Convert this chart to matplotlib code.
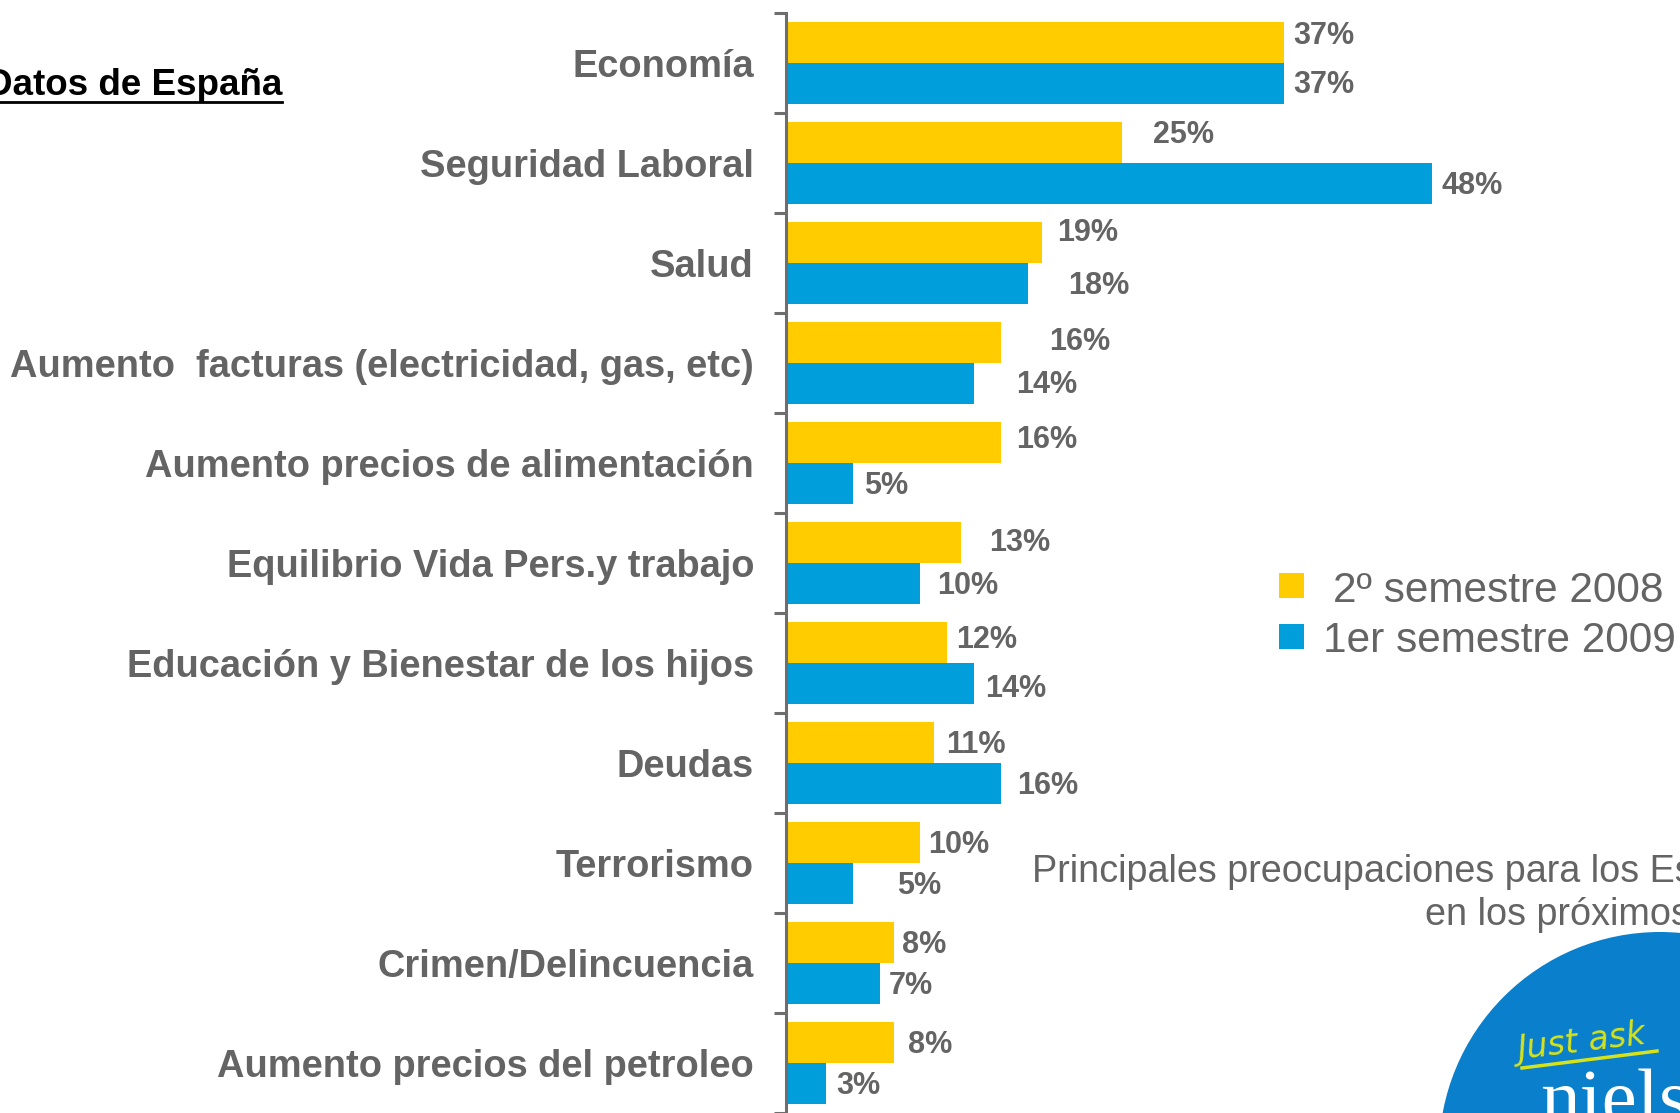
import matplotlib
matplotlib.use("Agg")
import matplotlib.pyplot as plt
from matplotlib.patches import Circle, Rectangle
from matplotlib.lines import Line2D
import numpy as np

plt.rcParams['font.family'] = ['Liberation Sans', 'DejaVu Sans']

# ---------------- data ----------------
categories = [
    "Economía",
    "Seguridad Laboral",
    "Salud",
    "Aumento  facturas (electricidad, gas, etc)",
    "Aumento precios de alimentación",
    "Equilibrio Vida Pers.y trabajo",
    "Educación y Bienestar de los hijos",
    "Deudas",
    "Terrorismo",
    "Crimen/Delincuencia",
    "Aumento precios del petroleo",
]
series_names = ["2º semestre 2008", "1er semestre 2009"]
values_2008 = [37, 25, 19, 16, 16, 13, 12, 11, 10, 8, 8]
values_2009 = [37, 48, 18, 14, 5, 10, 14, 16, 5, 7, 3]

title_text = "Datos de España"
subtitle_line1 = "Principales preocupaciones para los Españoles"
subtitle_line2 = "en los próximos 12 meses"

# ---------------- style ----------------
YELLOW = "#FFCC00"
BLUE = "#009EDA"
GRAY = "#646464"
AXGRAY = "#6E6E6E"
# label nudges (pixels) to mimic the hand-placed labels of the original
lab_dx_2008 = [10, 31, 16, 48, 15, 28, 9, 12, 8, 8, 14]
lab_dx_2009 = [10, 10, 40, 42, 11, 17, 11, 16, 44, 9, 10]
lab_up_2008 = [9, 10, 12, 3, 5, 2, 5, 0, 0, 0, 0]
lab_up_2009 = [1, 0, 0, 1, 0, 0, -3, 0, 0, 0, 0]

W, H = 1681, 1113
fig = plt.figure(figsize=(W / 100, H / 100), dpi=100)

ax_left, ax_top = 786, 13
ax = fig.add_axes([ax_left / W, 0.0, 1 - ax_left / W, (H - ax_top) / H])

n = len(categories)
y = np.arange(n)
bh = 0.41
ax.barh(y - bh / 2, values_2008, height=bh, color=YELLOW, linewidth=0, zorder=2)
ax.barh(y + bh / 2, values_2009, height=bh, color=BLUE, linewidth=0, zorder=2)

ax.set_ylim(n - 0.5, -0.5)
ax.set_xlim(0, (W - ax_left) / 13.45)

ax.set_yticks(y)
ax.set_yticklabels(categories, fontsize=27.4, fontweight='bold', color=GRAY)
ax.tick_params(axis='y', which='major', length=0, pad=23)
ax.set_yticks(np.arange(n + 1) - 0.5, minor=True)
ax.tick_params(axis='y', which='minor', length=8.8, width=2.2, color=AXGRAY, direction='out')
ax.set_xticks([])
for s in ['top', 'right', 'bottom']:
    ax.spines[s].set_visible(False)
ax.spines['left'].set_color(AXGRAY)
ax.spines['left'].set_linewidth(2.2)
ax.patch.set_visible(False)

cap_half = 0.716 * 30.5 / 2  # half cap-height in px for 22pt text
for i in range(n):
    ax.annotate(f"{values_2008[i]}%", (values_2008[i], y[i] - bh / 2),
                xytext=(lab_dx_2008[i], -cap_half + lab_up_2008[i]),
                textcoords='offset pixels', ha='left', va='baseline',
                fontsize=22, fontweight='bold', color=GRAY, annotation_clip=False)
    ax.annotate(f"{values_2009[i]}%", (values_2009[i], y[i] + bh / 2),
                xytext=(lab_dx_2009[i], -cap_half + lab_up_2009[i]),
                textcoords='offset pixels', ha='left', va='baseline',
                fontsize=22, fontweight='bold', color=GRAY, annotation_clip=False)

# ---------------- overlay in pixel coordinates ----------------
ov = fig.add_axes([0, 0, 1, 1], zorder=5)
ov.set_xlim(0, W)
ov.set_ylim(H, 0)
ov.axis('off')
ov.patch.set_visible(False)

# title with underline
t = ov.text(282, 95, title_text, ha='right', va='baseline', fontsize=26.5,
            fontweight='bold', color='black')
fig.canvas.draw()
bb = t.get_window_extent()
x0 = max(bb.x0, 0)
ov.add_line(Line2D([x0, bb.x1], [102, 102], color='black', lw=2.0))

# legend
for k, (name, col) in enumerate(zip(series_names, [YELLOW, BLUE])):
    top = 573 + k * 51
    ov.add_patch(Rectangle((1279, top), 25, 25, facecolor=col, edgecolor='none'))
    tx = 1333 if k == 0 else 1323
    ov.text(tx, 602 + k * 50, name, ha='left', va='baseline', fontsize=30.5, color=GRAY)

# subtitle
ov.text(1032, 882, subtitle_line1, ha='left', va='baseline', fontsize=27.2, color=GRAY)
ov.text(1425, 925, subtitle_line2, ha='left', va='baseline', fontsize=27.2, color=GRAY)

# logo
ov.add_patch(Circle((1660, 1153), 221, facecolor='#0A7FCB', edgecolor='none'))
ov.text(1582, 1043, "Just ask", ha='center', va='center', fontsize=24, color='#D6E21A',
        style='italic', rotation=7, family=['DejaVu Sans'])
ov.add_line(Line2D([1522, 1657], [1068, 1051], color='#D6E21A', lw=2.5))
ov.text(1540, 1123, "nielsen", ha='left', va='baseline', fontsize=57, color='white',
        family=['Liberation Serif', 'DejaVu Serif'])

fig.savefig("out.png", dpi=100)
